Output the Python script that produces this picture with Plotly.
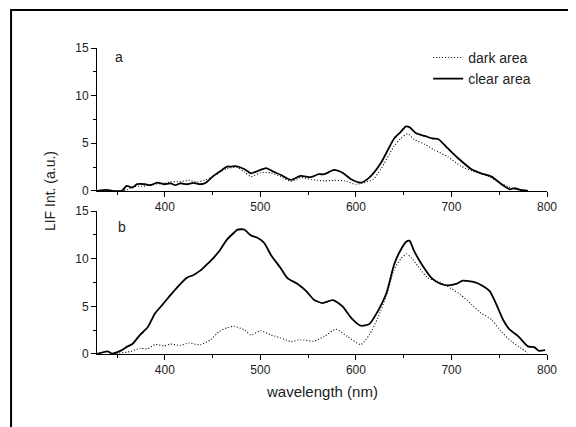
import plotly.graph_objects as go

# panel a: 暗区 / 亮区
a_dark_wl = [329, 345, 360, 367, 378, 388, 399, 406, 416, 425, 434, 441, 450, 458, 465, 476, 483, 490, 500, 511,
             521, 532, 542, 553, 567, 577, 588, 600, 609, 618, 626, 640, 647, 654, 661, 672, 682, 696, 710, 724,
             738, 748, 759, 769, 780]
a_dark = [0.0, 0.0, 0.1, 0.45, 0.5, 0.7, 0.8, 0.97, 0.97, 1.1, 0.95, 1.1, 1.5, 2.0, 2.35, 2.45, 2.0, 1.5, 1.9, 1.9,
          1.5, 1.0, 1.4, 1.2, 1.05, 1.1, 1.05, 0.7, 0.87, 1.22, 2.27, 4.7, 5.5, 6.0, 5.4, 4.9, 4.3, 3.6, 2.6, 2.0,
          1.57, 1.0, 0.45, 0.1, 0.0]

a_clear_wl = [329, 339, 345, 355, 360, 366, 371, 379, 385, 392, 399, 406, 411, 416, 423, 430, 437, 443, 450, 457,
              465, 469, 474, 483, 490, 495, 506, 513, 521, 532, 542, 553, 561, 567, 577, 586, 595, 605, 614, 626,
              640, 647, 652, 656, 663, 672, 680, 686, 696, 707, 721, 731, 742, 752, 761, 766, 773, 780]
a_clear = [0.0, 0.1, 0.0, 0.0, 0.52, 0.35, 0.7, 0.7, 0.6, 0.87, 0.7, 0.8, 0.6, 0.8, 0.7, 0.85, 0.7, 0.85, 1.5, 2.0,
           2.55, 2.55, 2.6, 2.3, 1.85, 2.0, 2.4, 2.05, 1.7, 1.15, 1.57, 1.45, 1.75, 1.75, 2.2, 1.9, 1.22, 0.87, 1.4, 2.9,
           5.5, 6.2, 6.75, 6.7, 6.05, 5.77, 5.5, 5.45, 4.48, 3.43, 2.27, 1.85, 1.5, 0.73, 0.17, 0.28, 0.1, 0.0]

# panel b
b_dark_wl = [346, 364, 374, 382, 390, 399, 406, 416, 425, 437, 448, 457, 465, 472, 483, 490, 500, 511, 521, 532,
             542, 556, 567, 579, 591, 605, 614, 623, 632, 640, 647, 653, 658, 665, 675, 689, 700, 710, 721, 731,
             742, 752, 763, 773, 780]
b_dark = [0.0, 0.27, 0.6, 0.55, 1.0, 0.85, 1.05, 0.9, 1.15, 0.97, 1.5, 2.37, 2.75, 2.9, 2.55, 2.0, 2.45, 2.0, 1.7, 1.3,
          1.5, 1.35, 1.85, 2.6, 1.85, 1.0, 2.0, 3.8, 6.2, 8.85, 10.0, 10.5, 10.1, 9.2, 8.0, 7.5, 6.85, 6.2, 5.2, 4.3,
          3.6, 2.37, 1.3, 0.6, 0.1]

b_clear_wl = [329, 340, 345, 354, 361, 366, 374, 382, 388, 390, 399, 406, 413, 423, 430, 437, 444, 451, 458, 465,
              472, 476, 483, 490, 497, 504, 511, 521, 528, 539, 548, 556, 565, 576, 586, 595, 605, 614, 623, 632,
              640, 647, 653, 656, 661, 668, 679, 689, 696, 705, 712, 724, 731, 740, 747, 754, 761, 770, 780, 787,
              791, 798]
b_clear = [0.0, 0.27, 0.05, 0.35, 0.8, 1.05, 2.0, 2.8, 3.95, 4.3, 5.35, 6.2, 7.0, 8.0, 8.3, 8.75, 9.4, 10.1, 10.95, 12.0,
           12.7, 13.05, 13.07, 12.45, 12.2, 11.65, 10.4, 9.05, 8.0, 7.35, 6.6, 5.7, 5.35, 5.65, 5.0, 3.8, 2.97, 3.15, 4.5, 6.4,
           9.4, 10.95, 11.8, 11.9, 10.8, 9.55, 8.0, 7.35, 7.2, 7.35, 7.7, 7.55, 7.25, 6.6, 5.2, 3.6, 2.55, 1.85, 0.8, 0.7,
           0.35, 0.4]

x_ticks = [400, 500, 600, 700, 800]
y_ticks = [0, 5, 10, 15]

FONT = "Liberation Sans, Arial, sans-serif"
DOT = dict(color="black", width=1.1, dash="1px,2px", shape="spline", smoothing=0.6)
SOLID = dict(color="black", width=1.8, shape="spline", smoothing=0.6)

fig = go.Figure()
fig.add_trace(go.Scatter(x=a_dark_wl, y=a_dark, mode="lines", name="dark area", line=DOT, xaxis="x", yaxis="y"))
fig.add_trace(go.Scatter(x=a_clear_wl, y=a_clear, mode="lines", name="clear area", line=SOLID, xaxis="x", yaxis="y"))
fig.add_trace(go.Scatter(x=b_dark_wl, y=b_dark, mode="lines", showlegend=False, line=DOT, xaxis="x2", yaxis="y2"))
fig.add_trace(go.Scatter(x=b_clear_wl, y=b_clear, mode="lines", showlegend=False, line=SOLID, xaxis="x2", yaxis="y2"))

xcommon = dict(range=[329, 800], tickvals=x_ticks, ticks="outside", ticklen=5, tickwidth=1, tickcolor="black",
               showline=True, linecolor="black", linewidth=1, showgrid=False, zeroline=False,
               tickfont=dict(size=12, color="#222"),
               minor=dict(tickvals=[350, 450, 550, 650, 750], ticks="outside", ticklen=3, tickcolor="black"))
ycommon = dict(range=[0, 15], tickvals=y_ticks, ticks="outside", ticklen=5, tickwidth=1, tickcolor="black",
               showline=True, linecolor="black", linewidth=1, showgrid=False, zeroline=False,
               tickfont=dict(size=12, color="#222"),
               minor=dict(tickvals=[2.5, 7.5, 12.5], ticks="outside", ticklen=3, tickcolor="black"))

# the page body adds an 8px margin, so the figure is 8px smaller than the window
fig.update_layout(
    width=568, height=419,
    margin=dict(l=89, r=29, t=40, b=73),
    paper_bgcolor="white", plot_bgcolor="white",
    font=dict(family=FONT, color="#222"),
    xaxis=dict(anchor="y", **xcommon),
    yaxis=dict(anchor="x", domain=[0.533, 1.0], **ycommon),
    xaxis2=dict(anchor="y2", **xcommon),
    yaxis2=dict(anchor="x2", domain=[0.0, 0.467], **ycommon),
    legend=dict(x=0.736, y=1.02, xanchor="left", yanchor="top", bgcolor="rgba(0,0,0,0)",
                font=dict(size=14, color="#222"), tracegroupgap=0, itemwidth=30),
    annotations=[
        dict(text="a", x=0.049, y=0.97, xref="paper", yref="paper", showarrow=False,
             xanchor="center", yanchor="middle", font=dict(size=14)),
        dict(text="b", x=0.055, y=0.415, xref="paper", yref="paper", showarrow=False,
             xanchor="center", yanchor="middle", font=dict(size=14)),
        dict(text="LIF Int. (a.u.)", x=-0.104, y=0.533, xref="paper", yref="paper", showarrow=False,
             xanchor="center", yanchor="middle", textangle=-90, font=dict(size=14)),
        dict(text="wavelength (nm)", x=0.5, y=-0.121, xref="paper", yref="paper", showarrow=False,
             xanchor="center", yanchor="middle", font=dict(size=15)),
    ],
    shapes=[
        dict(type="line", xref="paper", yref="paper", x0=-0.191, x1=-0.191, y0=1.124, y1=-0.3,
             line=dict(color="black", width=2)),
        dict(type="line", xref="paper", yref="paper", x0=-0.193, x1=1.2, y0=1.124, y1=1.124,
             line=dict(color="black", width=2)),
    ],
)

fig.write_html("out.html")
